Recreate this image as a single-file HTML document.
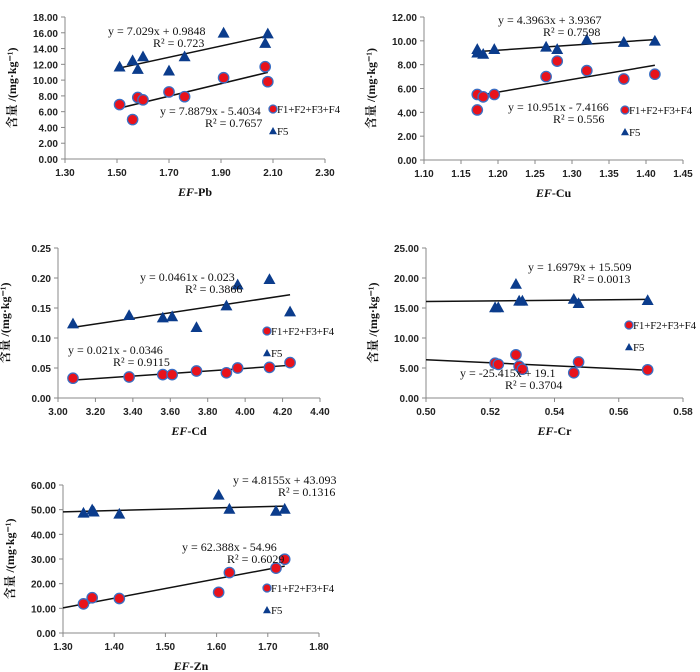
<!DOCTYPE html>
<html><head><meta charset="utf-8"><style>
body{margin:0;background:#fff;width:700px;height:672px;overflow:hidden}
svg{display:block}
.tk{font:bold 10px "Liberation Sans",sans-serif;fill:#222}
.eq{font:12px "Liberation Serif",serif;fill:#111}
.lg{font:11px "Liberation Serif",serif;fill:#111;letter-spacing:-0.2px}
.xt{font:bold 12px "Liberation Serif",serif;fill:#111}
.yt{font:bold 12px "Liberation Serif","Noto Serif CJK SC",serif;fill:#111}
</style></head><body>
<svg id="chart" width="700" height="672" xmlns="http://www.w3.org/2000/svg"></svg>
<script>
// Pb
const pbX=[1.51,1.56,1.58,1.60,1.70,1.76,1.91,2.07,2.08];
const pbCirc=[6.9,5.0,7.8,7.5,8.5,7.9,10.3,11.7,9.8];
const pbTri=[11.7,12.5,11.4,13.0,11.2,13.0,16.0,14.7,15.9];
// Cu
const cuX=[1.172,1.172,1.18,1.195,1.265,1.28,1.32,1.37,1.412];
const cuCirc=[4.2,5.5,5.3,5.5,7.0,8.3,7.5,6.8,7.2];
const cuTri=[9.3,9.0,8.9,9.3,9.5,9.3,10.1,9.9,10.0];
// Cd
const cdX=[3.08,3.38,3.56,3.61,3.74,3.90,3.96,4.13,4.24];
const cdCirc=[0.033,0.035,0.039,0.039,0.045,0.042,0.050,0.051,0.059];
const cdTri=[0.124,0.138,0.134,0.136,0.118,0.154,0.189,0.198,0.144];
// Cr
const crX=[0.5215,0.5225,0.528,0.529,0.530,0.546,0.5475,0.569];
const crCirc=[5.8,5.6,7.2,5.3,4.8,4.2,6.0,4.7];
const crTri=[15.1,15.1,19.0,16.2,16.2,16.5,15.8,16.3];
// Zn
const znXc=[1.34,1.357,1.41,1.604,1.625,1.716,1.733];
const znCirc=[11.8,14.3,14.0,16.5,24.5,26.3,29.9];
const znXt=[1.34,1.357,1.36,1.41,1.604,1.625,1.716,1.733];
const znTri=[48.7,50.0,49.2,48.3,56.0,50.3,49.5,50.3];
const legendLabels=["F1+F2+F3+F4","F5"];

const panels=[
 {id:"pb",el:"Pb",x0:65,x1:325,yb:159,yt:17,xmin:1.3,xmax:2.3,xstep:0.2,ymin:0,ymax:18,ystep:2,xc:pbX,yc:pbCirc,xt:pbX,ytr:pbTri,lx:273,ly:109,
  eqT:["y = 7.029x + 0.9848","R² = 0.723",108,35],eqC:["y = 7.8879x - 5.4034","R² = 0.7657",160,115],ext:false},
 {id:"cu",el:"Cu",x0:424,x1:683,yb:160,yt:17,xmin:1.1,xmax:1.45,xstep:0.05,ymin:0,ymax:12,ystep:2,xc:cuX,yc:cuCirc,xt:cuX,ytr:cuTri,lx:625,ly:110,
  eqT:["y = 4.3963x + 3.9367","R² = 0.7598",498,24],eqC:["y = 10.951x - 7.4166","R² = 0.556",508,111],ext:false},
 {id:"cd",el:"Cd",x0:58,x1:320,yb:398,yt:248,xmin:3.0,xmax:4.4,xstep:0.2,ymin:0,ymax:0.25,ystep:0.05,xc:cdX,yc:cdCirc,xt:cdX,ytr:cdTri,lx:267,ly:331,
  eqT:["y = 0.0461x - 0.023","R² = 0.3866",140,281],eqC:["y = 0.021x - 0.0346","R² = 0.9115",68,354],ext:false},
 {id:"cr",el:"Cr",x0:426,x1:683,yb:398,yt:248,xmin:0.5,xmax:0.58,xstep:0.02,ymin:0,ymax:25,ystep:5,xc:crX,yc:crCirc,xt:crX,ytr:crTri,lx:629,ly:325,
  eqT:["y = 1.6979x + 15.509","R² = 0.0013",528,271],eqC:["y = -25.415x + 19.1","R² = 0.3704",460,377],ext:true},
 {id:"zn",el:"Zn",x0:63,x1:319,yb:633,yt:485,xmin:1.3,xmax:1.8,xstep:0.1,ymin:0,ymax:60,ystep:10,xc:znXc,yc:znCirc,xt:znXt,ytr:znTri,lx:267,ly:588,
  eqT:["y = 4.8155x + 43.093","R² = 0.1316",233,484],eqC:["y = 62.388x - 54.96","R² = 0.6029",182,551],ext:true}
];
const svg=document.getElementById('chart');
const NS="http://www.w3.org/2000/svg";
function mk(tag,attrs,parent,txt){const e=document.createElementNS(NS,tag);for(const k in attrs)e.setAttribute(k,attrs[k]);if(txt!==undefined)e.textContent=txt;parent.appendChild(e);return e;}
function fit(xs,ys){const n=xs.length;let sx=0,sy=0,sxx=0,sxy=0;for(let i=0;i<n;i++){sx+=xs[i];sy+=ys[i];sxx+=xs[i]*xs[i];sxy+=xs[i]*ys[i];}const b=(n*sxy-sx*sy)/(n*sxx-sx*sx);return [b,(sy-b*sx)/n];}
function circ(g,x,y,r){const c=mk('circle',{cx:x,cy:y,r:r,fill:'#e8121b',stroke:'#3a6fc4','stroke-width':1.3},g);

}
function tri(g,x,y,s){const t=mk('path',{d:`M${x},${y-s} L${x+s},${y+s*0.8} L${x-s},${y+s*0.8}Z`,fill:'#0b3c8c'},g);

}
panels.forEach(p=>{
 const g=mk('g',{},svg);
 
 
 const X=v=>p.x0+(v-p.xmin)/(p.xmax-p.xmin)*(p.x1-p.x0);
 const Y=v=>p.yb-(v-p.ymin)/(p.ymax-p.ymin)*(p.yb-p.yt);
 mk('line',{x1:p.x0,y1:p.yt,x2:p.x0,y2:p.yb,stroke:'#888'},g);
 mk('line',{x1:p.x0,y1:p.yb,x2:p.x1,y2:p.yb,stroke:'#888'},g);
 const nx=Math.round((p.xmax-p.xmin)/p.xstep);
 for(let i=0;i<=nx;i++){const v=p.xmin+i*p.xstep,x=X(v);mk('line',{x1:x,y1:p.yb,x2:x,y2:p.yb+4,stroke:'#888'},g);
  const t=mk('text',{x:x,y:p.yb+17,'text-anchor':'middle',class:'tk'},g,v.toFixed(2));
  
  }
 const ny=Math.round((p.ymax-p.ymin)/p.ystep);
 for(let i=0;i<=ny;i++){const v=p.ymin+i*p.ystep,y=Y(v);mk('line',{x1:p.x0-4,y1:y,x2:p.x0,y2:y,stroke:'#888'},g);
  const t=mk('text',{x:p.x0-7,y:y+4,'text-anchor':'end',class:'tk'},g,v.toFixed(2));
  
  }
 const xt=mk('text',{x:(p.x0+p.x1)/2,y:p.yb+37,'text-anchor':'middle',class:'xt'},g);
 
 
 mk('tspan',{'font-style':'italic'},xt,'EF');mk('tspan',{},xt,'-'+p.el);
 const cy=(p.yt+p.yb)/2, yx=p.x0-49;
 const yt=mk('text',{x:yx,y:cy,'text-anchor':'middle',class:'yt',transform:`rotate(-90 ${yx} ${cy})`},g,'含量 /(mg·kg⁻¹)');
 
 
 [[p.xc,p.yc],[p.xt,p.ytr]].forEach(([xs,ys])=>{const [b,a]=fit(xs,ys);const xa=p.ext?p.xmin:Math.min(...xs),xb=Math.max(...xs);
  const l=mk('line',{x1:X(xa),y1:Y(a+b*xa),x2:X(xb),y2:Y(a+b*xb),stroke:'#111','stroke-width':1.5},g);
  
  });
 p.xt.forEach((v,i)=>tri(g,X(v),Y(p.ytr[i]),6));
 p.xc.forEach((v,i)=>circ(g,X(v),Y(p.yc[i]),5.2));
 [p.eqT,p.eqC].forEach(e=>{const t1=mk('text',{x:e[2],y:e[3],class:'eq'},g,e[0]);
  
  
  const t2=mk('text',{x:e[2]+45,y:e[3]+12,class:'eq'},g,e[1]);
  
  });
 const lg=mk('g',{},g);
 
 
 circ(lg,p.lx,p.ly,4);mk('text',{x:p.lx+4,y:p.ly+4,class:'lg'},lg,legendLabels[0]);
 tri(lg,p.lx,p.ly+22,4);mk('text',{x:p.lx+4,y:p.ly+26,class:'lg'},lg,legendLabels[1]);
});
</script>
</body></html>
